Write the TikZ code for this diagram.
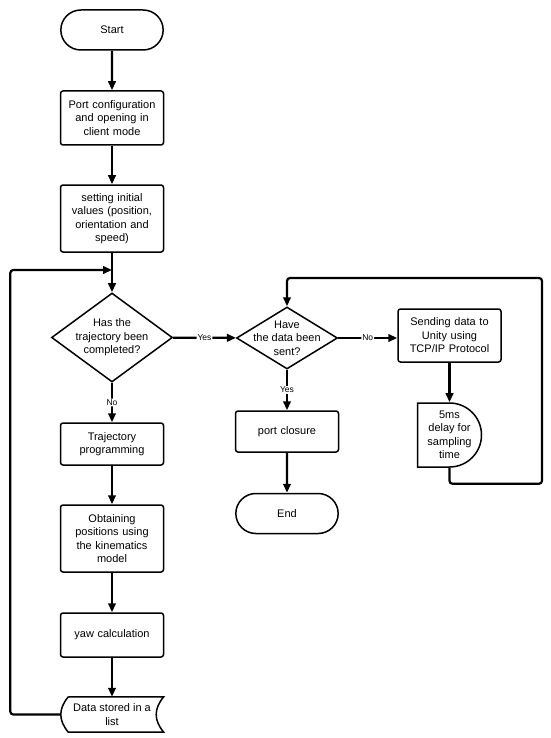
\documentclass[tikz,border=0pt]{standalone}
\usepackage{fontspec}
\setmainfont{Liberation Sans}
\usepackage{tikz}
\usetikzlibrary{arrows.meta,shapes.geometric,shapes.misc}
\definecolor{boxLine}{RGB}{0,0,0}
\definecolor{boxFill}{RGB}{255,255,255}
\definecolor{flLine}{RGB}{0,0,0}

\begin{document}
\begin{tikzpicture}[x=1pt,y=-1pt,font=\fontsize{11}{13.5}\selectfont,>={Triangle[length=9pt,width=7.5pt]},
  term/.style ={draw=boxLine,fill=boxFill,line width=1.5pt,rounded rectangle,minimum width=109pt,minimum height=40pt},
  proc/.style ={draw=boxLine,fill=boxFill,line width=1.5pt,rounded corners=2.5pt,align=center,inner sep=0pt,text width=97pt,minimum width=103pt},
  dec/.style  ={draw=boxLine,fill=boxFill,line width=1.5pt,diamond,inner sep=0pt},
  dectxt/.style={align=center,inner sep=0pt},
  delay/.style={draw=boxLine,fill=boxFill,line width=1.5pt,rounded rectangle,rounded rectangle west arc=none,inner sep=0pt,minimum width=61pt,minimum height=64pt},
  store/.style={align=center,inner sep=0pt,minimum width=103pt,minimum height=35pt},
  lbl/.style={fill=white,inner sep=1pt,font=\fontsize{8.5}{9}\selectfont},
  fl/.style={->,line width=2.2pt,flLine,rounded corners=3pt}]
\useasboundingbox (0,0) rectangle (550,738);
% left column
\node[term] (start) at (112,30) {Start};
\node[proc,minimum height=54pt] (port) at (112,118) {Port configuration\\and opening in\\client mode};
\node[proc,minimum height=67pt] (init) at (112,218.5) {setting initial\\values (position,\\orientation and\\speed)};
\coordinate (join) at (112,270);
\node[dec,minimum width=121pt,minimum height=89pt,label={[dectxt]center:Has the\\trajectory been\\completed?}] (done) at (112,337.5) {};
\node[proc,minimum height=42pt] (traj) at (112,444) {Trajectory\\programming};
\node[proc,minimum height=67pt] (kin) at (112,538.5) {Obtaining\\positions using\\the kinematics\\model};
\node[proc,minimum height=44pt] (yaw) at (112,635) {yaw calculation};
\node[store] (list) at (112,714.5) {Data stored in a\\list};
\draw[boxLine,line width=1.5pt] ([xshift=8pt]list.north west) -- (list.north east)
  .. controls +(-10,12) and +(-10,-12) .. (list.south east) -- ([xshift=8pt]list.south west)
  .. controls +(-10,-12) and +(-10,12) .. ([xshift=8pt]list.north west);
% middle and right
\node[dec,minimum width=101pt,minimum height=62pt,label={[dectxt]center:Have\\the data been\\sent?}] (sent) at (287,338) {};
\node[proc,minimum height=41pt] (close) at (287,431.5) {port closure};
\node[term] (stop) at (287,513.5) {End};
\node[proc,minimum height=53pt] (send) at (449.5,335.5) {Sending data to\\Unity using\\TCP/IP Protocol};
\node[delay,label={[dectxt]center:5ms\\delay for\\sampling\\time}] (wait) at (449.5,435) {};
\coordinate (rt) at (542,278);
% connectors
\draw[fl] (start) -- (port);   \draw[fl] (port) -- (init);
\draw[fl] (init) -- (done);
\draw[fl] (done) -- node[lbl]{Yes} (sent);
\draw[fl] (done) -- node[lbl]{No} (traj);
\draw[fl] (traj) -- (kin);     \draw[fl] (kin) -- (yaw);
\draw[fl] (yaw) -- (list);
\draw[fl] (list.west) -- ++(-50,0) |- (join);
\draw[fl] (sent) -- node[lbl]{No} (sent -| send.west);
\draw[fl] (sent) -- node[lbl]{Yes} (close);
\draw[fl] (close) -- (stop);
\draw[fl] (send) -- (wait);
\draw[fl] (wait.south) -- ++(0,16) -| (rt) -| (sent.north);
\end{tikzpicture}
\end{document}
